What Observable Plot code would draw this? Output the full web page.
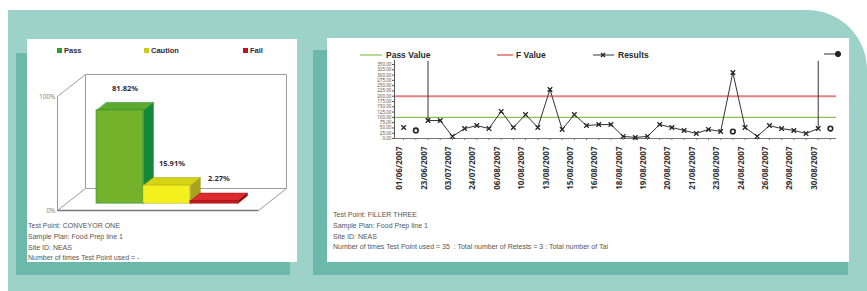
<!DOCTYPE html>
<html><head><meta charset="utf-8">
<script src="https://cdn.jsdelivr.net/npm/d3@7"></script>
<script src="https://cdn.jsdelivr.net/npm/@observablehq/plot@0.6"></script>
<style>
body{margin:0;background:#fff;font-family:"Liberation Sans",Arial,sans-serif;}
#wrap{position:relative;width:867px;height:291px;overflow:hidden;background:#fff;}
.abs{position:absolute;}
.note{position:absolute;font-size:7px;line-height:10.8px;color:#555;white-space:nowrap;}
.leg{position:absolute;font-size:7.5px;font-weight:bold;color:#2e2a3a;white-space:nowrap;line-height:10px;}
.sw{display:inline-block;width:5px;height:5px;margin-right:2px;vertical-align:0px;}
svg{overflow:visible;}
</style></head><body>
<div id="wrap">
  <div class="abs" style="left:8px;top:10px;right:0;bottom:0;background:#9dd2c8;border-top-right-radius:60px;"></div>
  <div class="abs" style="left:16px;top:53px;width:274px;height:222px;background:#6cb8aa;"></div>
  <div class="abs" style="left:27px;top:39px;width:270px;height:223px;background:#fff;"></div>
  <div class="abs" style="left:313px;top:50px;width:535px;height:225px;background:#6cb8aa;"></div>
  <div class="abs" style="left:327px;top:38px;width:522px;height:224px;background:#fff;"></div>

  <div class="leg" style="left:57px;top:46px;"><span class="sw" style="background:#2e9a36"></span>Pass</div>
  <div class="leg" style="left:144px;top:46px;"><span class="sw" style="background:#c9c81c"></span>Caution</div>
  <div class="leg" style="left:243px;top:46px;"><span class="sw" style="background:#c0141c"></span>Fail</div>

  <div id="left" class="abs" style="left:27px;top:39px;"></div>
  <div id="right" class="abs" style="left:327px;top:45px;"></div>

  <svg class="abs" style="left:0;top:0" width="867" height="70">
    <line x1="360" y1="55" x2="382" y2="55" stroke="#8cc152" stroke-width="1.2"/>
    <text x="386" y="58" font-size="8.5" font-weight="bold" fill="#2a2a2a">Pass Value</text>
    <line x1="497" y1="55" x2="513" y2="55" stroke="#e57373" stroke-width="1.6"/>
    <text x="516" y="58" font-size="8.5" font-weight="bold" fill="#2a2a2a">F Value</text>
    <line x1="593" y1="55" x2="614" y2="55" stroke="#333" stroke-width="1"/>
    <path d="M601,53 l4,4 M605,53 l-4,4" stroke="#222" stroke-width="1.3"/>
    <text x="618" y="58" font-size="8.5" font-weight="bold" fill="#2a2a2a">Results</text>
    <line x1="824" y1="54" x2="835" y2="54" stroke="#333" stroke-width="1"/>
    <circle cx="838" cy="54" r="2.6" fill="#222" stroke="#222"/>
  </svg>

  <div class="note" style="left:28px;top:221px;">Test Point: CONVEYOR ONE<br>Sample Plan: Food Prep line 1<br>Site ID: NEAS<br>Number of times Test Point used = -</div>
  <div class="note" style="left:333px;top:210px;">Test Point: FILLER THREE<br>Sample Plan: Food Prep line 1<br>Site ID: NEAS<br>Number of times Test Point used = 35 &nbsp;: Total number of Retests = 3 : Total number of Tai</div>
</div>
<script>
// ---------- data: left 3D bar chart ----------
const barCategories = ["Pass", "Caution", "Fail"];
const barValues = [81.82, 15.91, 2.27];
const barLabels = ["81.82%", "15.91%", "2.27%"];
const leftAxisValues = [0, 100];
const leftAxisLabels = ["0%", "100%"];

// ---------- data: right line chart ----------
const dateLabels = ["01/06/2007","23/06/2007","03/07/2007","24/07/2007","06/08/2007","10/08/2007",
  "13/08/2007","15/08/2007","16/08/2007","18/08/2007","19/08/2007","20/08/2007",
  "21/08/2007","23/08/2007","24/08/2007","26/08/2007","29/08/2007","30/08/2007"];
const results = [52, null, 85, 85, 10, 47, 61, 47, 128, 52, 113, 52, 232, 43, 113, 61, 66, 66,
  10, 5, 10, 66, 52, 38, 24, 43, 33, 312, 52, 10, 61, 47, 38, 24, 47, null];
const zeroResults = [null, 38, null, null, null, null, null, null, null, null, null, null, null, null, null, null, null, null,
  null, null, null, null, null, null, null, null, null, 33, null, null, null, null, null, null, null, 47];
const offScaleIndex = [2, 34];
const offScaleTop = 365;
const passValue = 100;
const fValue = 200;
const yTicks = [0, 25, 50, 75, 100, 125, 150, 175, 200, 225, 250, 275, 300, 325, 350];

// ---------- styles ----------
const pal = {
  front: ["#73b22a", "#f4f01e", "#c8181e"],
  top:   ["#5ca92c", "#d6d214", "#dc2a2e"],
  side:  ["#14883a", "#a8a420", "#8a0e12"]
};
const L = {base: 6, start: 0.83, depthX: 0.596, depthY: 19.3, barDX: 0.213, barDY: 7, frontRight: 4.28};

// ---------- left chart ----------
const bars = barCategories.map((c, i) => ({c, i, v: barValues[i], label: barLabels[i], x0: L.start + i, x1: L.start + i + 1}));
const topY = d => L.base + d.v;
const sidePoly = bars.flatMap(d => [
  {id: d.c, i: d.i, x: d.x1, y: L.base},
  {id: d.c, i: d.i, x: d.x1, y: topY(d)},
  {id: d.c, i: d.i, x: d.x1 + L.barDX, y: topY(d) + L.barDY},
  {id: d.c, i: d.i, x: d.x1 + L.barDX, y: L.base + L.barDY}
]);
const topPoly = bars.flatMap(d => [
  {id: d.c, i: d.i, x: d.x0, y: topY(d)},
  {id: d.c, i: d.i, x: d.x1, y: topY(d)},
  {id: d.c, i: d.i, x: d.x1 + L.barDX, y: topY(d) + L.barDY},
  {id: d.c, i: d.i, x: d.x0 + L.barDX, y: topY(d) + L.barDY}
]);
const bx = L.frontRight + L.depthX, by = L.depthY, ty = 100 + by;
const frame = [
  [0, 0, 0, 100], [0, 100, L.depthX, ty], [L.depthX, ty, bx, ty], [bx, ty, bx, by],
  [L.depthX, ty, L.depthX, by], [L.depthX, by, bx, by], [L.frontRight, 0, bx, by], [0, 0, L.depthX, by]
];
const leftPlot = Plot.plot({
  width: 270, height: 185,
  marginLeft: 30, marginRight: 39, marginTop: 57, marginBottom: 14,
  x: {domain: [0, L.frontRight], axis: null},
  y: {domain: [0, 100], axis: null},
  color: {type: "identity"},
  style: {background: "transparent", overflow: "visible"},
  marks: [
    Plot.link(frame, {x1: d => d[0], y1: d => d[1], x2: d => d[2], y2: d => d[3], stroke: "#9a9a9a", strokeWidth: 1}),
    Plot.link([[0, 0, L.frontRight, 0]], {x1: d => d[0], y1: d => d[1], x2: d => d[2], y2: d => d[3], stroke: "#777", strokeWidth: 1.3}),
    Plot.line(sidePoly, {x: "x", y: "y", z: "id", fill: d => pal.side[d.i], stroke: d => pal.side[d.i], strokeWidth: 0.5, curve: "linear-closed"}),
    Plot.line(topPoly, {x: "x", y: "y", z: "id", fill: d => pal.top[d.i], stroke: d => pal.side[d.i], strokeWidth: 0.5, curve: "linear-closed"}),
    Plot.rect(bars, {x1: "x0", x2: "x1", y1: L.base, y2: d => topY(d), fill: d => pal.front[d.i], stroke: d => pal.side[d.i], strokeWidth: 0.5}),
    Plot.text(bars, {x: d => (d.x0 + d.x1) / 2 + L.barDX / 2, y: d => topY(d) + L.barDY, text: "label", dy: -14, fontSize: 7.5, fontWeight: "bold", fill: "#2e2a3a"}),
    Plot.text(leftAxisValues, {x: 0, y: d => d, text: (d, i) => leftAxisLabels[i], textAnchor: "end", dx: -2, fontSize: 6.5, fill: "#888"})
  ]
});
document.getElementById("left").appendChild(leftPlot);

// ---------- right chart ----------
const pts = results.map((v, i) => ({i, v}));
const zeroPts = zeroResults.map((v, i) => ({i, v})).filter(d => d.v != null);
const dateIdx = dateLabels.map((t, k) => ({i: k * 2, t}));
const rightPlot = Plot.plot({
  width: 522, height: 165,
  marginLeft: 67, marginRight: 13, marginTop: 19, marginBottom: 72,
  x: {domain: [-0.75, 35.5], axis: null},
  y: {domain: [0, 350], axis: null},
  style: {background: "transparent", overflow: "visible"},
  marks: [
    Plot.ruleY([passValue], {stroke: "#8cc152", strokeWidth: 1.1}),
    Plot.ruleY([fValue], {stroke: "#e36b6b", strokeWidth: 2, strokeOpacity: 0.85}),
    Plot.axisY(yTicks, {anchor: "left", label: null, tickSize: 2, tickPadding: 1, fontSize: 4.6, tickFormat: d3.format(".2f"), stroke: "#555", fill: "#555"}),
    Plot.axisX(d3.range(36), {anchor: "bottom", label: null, tickSize: 2, tickFormat: () => "", stroke: "#777"}),
    Plot.ruleY([0], {stroke: "#777"}),
    Plot.ruleX([-0.75], {y1: 0, y2: 370, stroke: "#555"}),
    Plot.ruleX(offScaleIndex, {x: d => d, y1: d => results[d], y2: offScaleTop, stroke: "#333", strokeWidth: 1}),
    Plot.line(pts, {x: "i", y: "v", stroke: "#333", strokeWidth: 1}),
    Plot.dot(pts.filter(d => d.v != null), {x: "i", y: "v", symbol: "times", r: 2.2, stroke: "#222", strokeWidth: 1.3}),
    Plot.dot(zeroPts, {x: "i", y: "v", symbol: "circle", r: 2.3, stroke: "#222", strokeWidth: 1.6, fill: "white"}),
    Plot.text(dateIdx, {x: "i", y: 0, text: "t", rotate: -90, textAnchor: "end", dy: 8, dx: -4, fontSize: 8, fontWeight: "bold", fill: "#333", ariaLabel: "date-labels"})
  ]
});
document.getElementById("right").appendChild(rightPlot);
d3.select(rightPlot).selectAll('g[aria-label="date-labels"] text').attr("textLength", 47).attr("lengthAdjust", "spacingAndGlyphs");
</script>
</body></html>
